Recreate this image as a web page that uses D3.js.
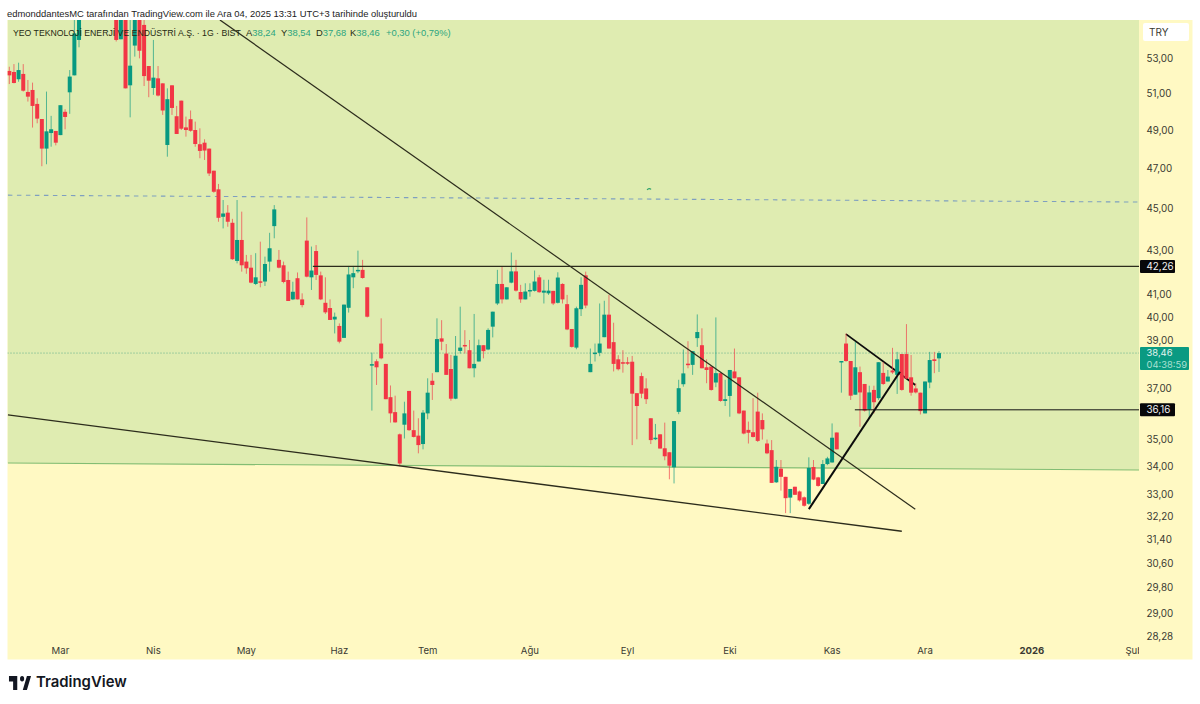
<!DOCTYPE html>
<html>
<head>
<meta charset="utf-8">
<script src="https://cdn.jsdelivr.net/npm/d3@7"></script>
<style>
  html, body { margin: 0; padding: 0; background: #fff; }
  svg { display: block; }
  text { font-family: Inter, "Liberation Sans", sans-serif; }
</style>
</head>
<body>
<script>
// candles, one entry per trading day (first is at the left edge of the pane)
var opens = [52.26,52.20,51.79,52.09,51.08,51.19,50.42,49.60,48.03,48.85,48.96,48.74,49.99,51.06,52.01,54.05,56.5,58.4,57.6,59.0,58.0,58.8,57.2,
  56.0,54.09,56.3,51.45,53.72,56.0,54.94,52.54,51.30,51.84,51.56,48.22,51.45,49.75,50.60,49.15,49.59,49.01,48.26,48.34,48.03,46.89,
  45.95,44.60,44.80,44.31,42.51,43.49,42.48,42.20,41.46,41.58,41.57,42.48,44.15,42.56,42.31,41.64,40.77,41.72,40.77,43.46,41.76,42.97,41.85,40.62,40.39,39.89,39.61,
  39.10,40.40,41.76,42.05,42.10,41.31,37.98,38.12,38.86,38.01,36.66,36.07,35.21,35.58,36.91,35.37,35.16,34.84,36.02,37.32,37.67,39.08,38.44,37.80,36.60,38.55,
  38.80,38.58,37.83,38.11,38.79,38.61,39.58,40.59,41.46,40.77,41.52,42.03,41.10,40.77,41.15,41.15,41.76,41.07,41.04,41.15,40.62,41.46,40.56,39.48,38.69,40.34,41.85,
  37.67,38.44,38.47,39.13,40.10,38.92,38.20,38.08,38.08,38.10,36.82,37.51,37.01,35.83,35.04,35.21,34.68,34.53,33.97,36.08,37.18,38.02,37.97,39.09,
  38.79,37.87,37.90,37.25,37.63,36.51,36.71,37.70,37.46,36.13,35.38,35.29,36.09,35.76,34.86,34.61,33.42,33.92,33.62,32.87,33.26,33.09,32.88,32.65,33.98,33.60,33.36,34.09,34.15,35.28,
  38.11,38.86,38.13,36.76,37.67,37.19,36.18,36.95,36.62,37.64,37.29,37.74,37.56,38.42,38.42,37.46,37.01,36.84,36.02,37.25,38.20,38.24];
var highs = [52.50,52.65,52.73,52.65,51.75,51.60,50.73,49.60,51.10,49.77,48.96,50.35,50.13,52.31,55.24,57.0,58.8,59.2,59.6,59.8,59.2,59.2,57.9,
  56.5,56.6,56.5,56.0,56.5,56.6,56.0,52.54,54.05,52.54,51.56,51.28,51.45,50.31,50.60,49.73,50.06,49.46,49.10,48.52,48.03,46.89,
  46.22,45.42,45.17,44.50,45.42,44.85,42.79,42.79,42.87,43.41,42.71,43.83,45.17,43.02,42.48,42.02,41.56,41.98,41.04,44.57,43.18,43.25,42.02,41.76,40.77,40.19,39.72,
  40.54,42.28,42.28,42.99,42.56,41.31,38.48,38.20,39.94,38.01,37.13,36.72,35.24,36.48,36.91,36.13,35.83,36.15,37.42,37.63,39.94,39.86,38.84,38.38,39.18,40.45,
  39.43,39.01,40.13,39.03,38.79,39.51,40.23,42.10,42.25,41.31,42.90,42.56,41.42,41.49,41.49,42.07,41.87,41.65,41.65,41.15,41.99,41.49,40.97,39.48,40.45,41.76,42.02,
  38.65,38.86,40.59,40.71,40.97,39.75,38.37,38.58,38.29,38.34,36.82,37.65,37.42,35.83,35.61,35.21,35.66,34.53,35.72,37.36,38.61,38.96,38.54,40.11,
  39.51,38.20,37.90,39.98,37.63,37.36,37.76,38.65,37.46,36.13,35.70,36.62,36.84,36.02,35.01,34.99,34.24,34.24,33.62,33.18,33.26,33.12,32.91,34.34,34.24,33.62,34.24,34.36,35.63,35.28,
  38.13,39.29,38.13,38.93,37.90,37.19,37.12,37.12,38.08,38.08,37.76,38.68,38.51,38.42,39.69,38.38,37.22,36.84,37.29,38.51,38.51,38.54];
var lows = [51.52,51.56,51.65,51.10,50.55,49.14,49.37,47.12,47.22,48.13,48.20,48.74,49.05,49.88,52.01,53.62,56.2,57.4,57.2,57.7,57.6,56.8,55.9,
  53.96,54.09,51.28,49.69,53.08,52.98,51.41,50.79,50.92,50.83,49.82,47.61,49.82,48.80,49.01,48.66,48.92,48.13,47.53,47.44,46.62,45.78,
  44.36,44.04,44.12,42.56,42.40,42.02,41.92,41.49,41.41,41.31,41.37,42.02,43.57,42.17,41.49,40.70,40.74,40.77,40.42,41.76,41.19,41.64,40.74,40.13,39.87,39.29,38.87,
  39.10,40.19,41.27,41.95,41.70,39.98,36.13,37.15,38.20,36.58,35.66,35.66,34.01,35.05,35.34,35.09,34.49,34.64,35.79,36.55,37.67,38.58,37.56,36.52,36.58,38.44,
  38.44,37.83,37.46,38.11,38.24,38.58,39.12,40.52,40.59,40.77,41.49,41.12,40.62,40.77,40.89,41.12,41.07,40.59,40.97,40.52,40.59,40.59,39.43,38.69,38.62,40.04,40.38,
  37.67,38.11,38.33,39.13,38.65,37.70,37.74,37.65,37.97,34.80,35.02,36.62,36.39,34.84,34.99,34.67,34.23,33.53,33.38,35.99,37.08,37.83,37.56,38.72,
  37.83,37.22,36.92,37.06,36.48,36.31,35.89,37.42,35.99,35.21,34.86,35.09,34.92,35.01,34.46,33.40,33.40,33.12,32.32,32.32,32.97,32.73,32.55,32.61,33.50,33.26,33.36,34.05,34.14,34.64,
  36.84,38.10,36.55,36.76,35.50,36.09,35.82,36.02,36.55,37.15,37.29,37.60,36.79,36.92,37.38,36.72,36.81,35.98,36.02,37.02,37.63,37.68];
var closes = [52.01,51.58,52.31,51.15,50.82,50.31,49.62,48.03,48.94,49.05,48.34,50.35,49.71,51.94,54.44,56.5,58.4,57.6,59.0,58.0,58.8,57.2,56.2,
  54.05,56.2,51.28,52.56,56.0,53.42,51.97,51.71,51.88,50.88,50.06,50.68,50.20,48.80,49.08,49.01,48.97,48.27,47.91,47.93,46.75,45.83,
  44.55,44.76,44.36,42.59,43.49,42.31,42.17,41.52,41.76,41.52,42.37,43.10,44.96,42.20,41.55,40.70,41.11,40.77,40.52,41.79,42.07,41.87,40.77,40.20,39.87,40.01,38.94,
  40.54,41.89,41.95,42.10,41.73,40.01,38.00,37.87,38.24,36.58,36.02,35.67,34.11,36.02,35.37,35.11,34.80,36.05,36.84,37.15,39.05,38.94,37.56,36.60,38.35,38.69,
  38.75,37.83,38.01,38.79,38.54,39.44,40.23,41.46,40.77,41.31,42.03,41.16,40.77,41.12,41.19,41.57,41.09,41.16,41.16,40.59,41.75,40.77,39.46,38.72,40.38,41.42,40.50,
  38.01,38.48,38.86,40.10,38.65,38.01,37.79,38.04,38.02,36.80,36.31,36.80,36.58,34.99,35.08,34.67,34.38,34.03,35.72,37.02,37.62,37.98,38.54,39.35,
  37.83,37.76,36.95,37.63,36.51,36.58,37.76,37.42,36.02,35.24,35.27,35.11,34.96,35.40,34.49,33.40,33.99,33.62,32.85,33.18,32.97,32.77,32.58,33.95,33.52,33.29,34.09,34.30,35.08,34.64,
  38.13,38.13,36.72,37.87,36.85,36.13,36.85,36.46,38.08,37.19,37.49,37.66,38.20,36.95,37.41,36.84,36.85,36.11,37.29,38.17,38.13,38.46];

// y axis
var priceTicks = [53,51,49,47,45,43,41,40,39,37,35,34,33,32.2,31.4,30.6,29.8,29,28.28];
// x axis, bar index of each month label
var monthNames = ["Mar","Nis","May","Haz","Tem","Ağu","Eyl","Eki","Kas","Ara","2026","Şub"];
var monthBars = [11,31,51,71,90,112,133,155,177,197,220,242];

// drawings, as bar index and price at both ends
var mainTrend = [[45.3,55.24],[194.9,32.46]];
var lowerTrend = [[-0.3,35.96],[192,31.69]];
var riseLine = [[172,32.46],[191.6,37.69]];
var fallLine = [[180,39.26],[194.9,37.15]];
var resistance = [[65.3,42.26],[243.3,42.26]];
var support = [[181.9,36.16],[243.3,36.16]];
var dashedLine = [[-0.3,45.66],[243.3,45.32]];
var zoneEdge = [[-0.3,34.13],[243.3,33.87]];
var lastPrice = 38.46;

var colors = { up: "#089981", down: "#f23645", zoneHigh: "#dfecb1", zoneLow: "#fff9c3", text: "#3a3a32" };

var svg = d3.select("body").append("svg").attr("width", 1200).attr("height", 704);

var pane = { left: 7.5, right: 1139, top: 20, bottom: 659.5 };
var axisRight = 1192.5;

var x = d3.scaleLinear().domain([0, 200]).range([9.3, 939]);
// log price scale, pinned on the 53 and 28.28 labels
var y = d3.scaleLog().domain([53, 28.28]).range([58, 636]);

svg.append("defs").append("clipPath").attr("id", "pane-clip").append("rect")
  .attr("x", pane.left).attr("y", pane.top)
  .attr("width", pane.right - pane.left).attr("height", pane.bottom - pane.top);

// yellow base runs under the axis too
svg.append("rect").attr("x", pane.left).attr("y", pane.top)
  .attr("width", axisRight - pane.left).attr("height", pane.bottom - pane.top)
  .style("fill", colors.zoneLow);

var g = svg.append("g").attr("clip-path", "url(#pane-clip)");

// green zone above the sloped edge
var zonePath = d3.path();
zonePath.moveTo(pane.left, pane.top);
zonePath.lineTo(pane.right, pane.top);
zonePath.lineTo(pane.right, y(zoneEdge[1][1]));
zonePath.lineTo(pane.left, y(zoneEdge[0][1]));
zonePath.closePath();
g.append("path").attr("d", zonePath.toString()).style("fill", colors.zoneHigh);

var place_line = function(pts, color, width, dash) {
  var l = g.append("line")
    .attr("x1", x(pts[0][0])).attr("y1", y(pts[0][1]))
    .attr("x2", x(pts[1][0])).attr("y2", y(pts[1][1]))
    .style("stroke", color).style("stroke-width", width);
  if (dash) { l.style("stroke-dasharray", dash); }
};

place_line(zoneEdge, "#82bd73", 1.2);
place_line(dashedLine, "#7f9fc0", 1.1, "4.5 4.5");

// last price dotted line
g.append("line").attr("x1", pane.left).attr("x2", pane.right)
  .attr("y1", y(lastPrice)).attr("y2", y(lastPrice))
  .style("stroke", "#5fae8c").style("stroke-width", 1).style("stroke-dasharray", "1 2");

// this one runs behind the candles, it only shows in the gaps
place_line(fallLine, "#0c0c0c", 1.8);

// candles
var bars = d3.range(opens.length);
var barColor = function(i) { return closes[i] >= opens[i] ? colors.up : colors.down; };

g.selectAll(".wick").data(bars).enter().append("line")
  .attr("class", "wick")
  .attr("x1", function(i) { return x(i); }).attr("x2", function(i) { return x(i); })
  .attr("y1", function(i) { return y(highs[i]); }).attr("y2", function(i) { return y(lows[i]); })
  .style("stroke", barColor).style("stroke-width", 1).style("opacity", 0.65);

g.selectAll(".body").data(bars).enter().append("rect")
  .attr("class", "body")
  .attr("x", function(i) { return x(i) - 2; })
  .attr("width", 4)
  .attr("y", function(i) { return y(Math.max(opens[i], closes[i])); })
  .attr("height", function(i) { return Math.max(1.5, Math.abs(y(opens[i]) - y(closes[i]))); })
  .style("fill", barColor);

// small mark on the dashed line
g.append("path")
  .attr("d", "M" + x(137.2) + "," + y(45.92) + " q2,-2.5 4,-0.5")
  .style("fill", "none").style("stroke", "#2fa36b").style("stroke-width", 1.2);

// trend lines sit on top of the candles
place_line(mainTrend, "#2c2c1c", 1.2);
place_line(lowerTrend, "#2c2c1c", 1.3);
place_line(resistance, "#2c2c1c", 1.1);
place_line(support, "#111", 1);
place_line(riseLine, "#0c0c0c", 2);

// price axis through d3, comma decimals
var axisG = svg.append("g").attr("transform", "translate(" + pane.right + ",0)")
  .call(d3.axisRight(y).tickValues(priceTicks).tickSize(0).tickPadding(7.5)
    .tickFormat(function(d) { return d3.format(".2f")(d).replace(".", ","); }));
axisG.select(".domain").remove();
axisG.selectAll("text").style("font-size", "9.8px").style("fill", colors.text)
  .style("font-family", "Inter, sans-serif");

// TRY box
svg.append("rect").attr("x", 1143).attr("y", 23).attr("width", 46).attr("height", 18).attr("rx", 2).style("fill", "#fff");
svg.append("text").attr("x", 1149).attr("y", 36).text("TRY").style("font-size", "10px").style("fill", colors.text);

var place_tag = function(price, label) {
  svg.append("rect").attr("x", pane.right + 1).attr("y", y(price) - 6.5).attr("width", 35).attr("height", 13)
    .attr("rx", 1).style("fill", "#08080a");
  svg.append("text").attr("x", pane.right + 7.5).attr("y", y(price) + 3.5).text(label)
    .style("font-size", "9.8px").style("fill", "#f2f2f2");
};
place_tag(42.26, "42,26");
place_tag(36.16, "36,16");

// last price tag
svg.append("rect").attr("x", pane.right + 1).attr("y", y(lastPrice) - 6).attr("width", 49).attr("height", 23)
  .attr("rx", 1).style("fill", "#0a9a82");
svg.append("text").attr("x", pane.right + 7.5).attr("y", y(lastPrice) + 3).text("38,46")
  .style("font-size", "9.4px").style("fill", "#e8f5f0");
svg.append("text").attr("x", pane.right + 7.5).attr("y", y(lastPrice) + 14.5).text("04:38:59")
  .style("font-size", "9.4px").style("fill", "#a9e0d2");

// month labels
var timeG = svg.append("g").attr("clip-path", "url(#pane-clip)");
timeG.selectAll("text").data(monthBars).enter().append("text")
  .attr("x", function(b) { return x(b); })
  .attr("y", 653.5)
  .attr("text-anchor", "middle")
  .text(function(b, i) { return monthNames[i]; })
  .style("font-size", "9.6px")
  .style("fill", colors.text)
  .style("font-weight", function(b, i) { return monthNames[i] == "2026" ? 700 : 400; });

// header
svg.append("text").attr("x", 7).attr("y", 16.5)
  .text("edmonddantesMC tarafından TradingView.com ile Ara 04, 2025 13:31 UTC+3 tarihinde oluşturuldu")
  .style("font-size", "9.42px").style("fill", "#1c1c1c").style("font-family", "'Liberation Sans', sans-serif");

// legend line, the pieces have their own start so they line up with the reference
var legendStyle = function(sel, size, color) {
  sel.style("font-size", size).style("fill", color).style("font-family", "'Liberation Sans', sans-serif");
};
legendStyle(svg.append("text").attr("x", 13).attr("y", 36)
  .text("YEO TEKNOLOJİ ENERJİ VE ENDÜSTRİ A.Ş. · 1G · BIST"), "8.7px", "#1f2a12");
var ohlc = [["A","38,24",246],["Y","38,54",281],["D","37,68",316],["K","38,46",350]];
ohlc.forEach(function(d) {
  var t = svg.append("text").attr("x", d[2]).attr("y", 36);
  legendStyle(t, "9.4px", "#1f2a12");
  t.append("tspan").text(d[0]);
  t.append("tspan").text(d[1]).style("fill", "#2ba57f");
});
legendStyle(svg.append("text").attr("x", 386).attr("y", 36).text("+0,30 (+0,79%)"), "9.4px", "#2ba57f");

// footer logo
svg.append("path")
  .attr("d", "M14 6H2v6h6v9h6V6Zm14 15h-6l6-15h6l-6 15Zm-7-9a3 3 0 1 0 0-6 3 3 0 0 0 0 6Z")
  .attr("transform", "translate(7.6,670.4) scale(0.69,0.93)")
  .style("fill", "#131722");
svg.append("text").attr("x", 36).attr("y", 687).text("TradingView")
  .style("font-size", "14.9px").style("font-weight", 600).style("fill", "#131722");
</script>
</body>
</html>
